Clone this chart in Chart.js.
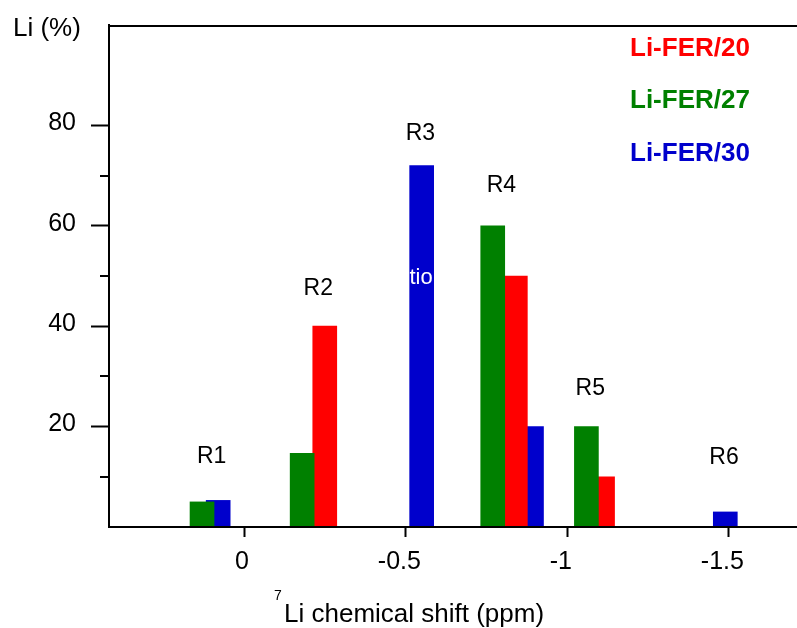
<!DOCTYPE html>
<html>
<head>
<meta charset="utf-8">
<title>Li distribution by 7Li chemical shift</title>
<script src="https://cdn.jsdelivr.net/npm/chart.js@4/dist/chart.umd.min.js"></script>
<style>
  html, body { margin: 0; padding: 0; background: #ffffff; }
  canvas { display: block; }
</style>
</head>
<body>
<canvas id="chart" width="797" height="628"></canvas>
<script>
// Li population (%) per site, positioned at its 7Li chemical shift (ppm)
const seriesNames = ['Li-FER/20', 'Li-FER/27', 'Li-FER/30'];
const seriesColors = ['#ff0000', '#008000', '#0000cc'];

const fer20Shift = [-0.25, -0.84, -1.11];
const fer20Li = [40, 50, 10];

const fer27Shift = [0.13, -0.18, -0.77, -1.06];
const fer27Li = [5, 14.7, 60, 20];

const fer30Shift = [0.08, -0.55, -0.89, -1.49];
const fer30Li = [5.3, 72, 20, 3];

// site labels and where they sit (shift, Li %)
const regionNames = ['R1', 'R2', 'R3', 'R4', 'R5', 'R6'];
const regionShift = [0.10, -0.23, -0.546, -0.797, -1.072, -1.486];
const regionLabelLi = [14, 47.5, 78.3, 67.9, 27.6, 13.8];

const xTickValues = [0, -0.5, -1, -1.5];
const yTickValues = [20, 40, 60, 80];
const yMinorTickValues = [10, 30, 50, 70];

const FONT = "'Liberation Sans', Arial, Helvetica, sans-serif";

function points(xs, ys) {
  return xs.map((x, i) => ({ x: x, y: ys[i] }));
}

const decorations = {
  id: 'decorations',
  afterDraw(chart) {
    const ctx = chart.ctx;
    const area = chart.chartArea;
    const xs = chart.scales.x;
    const ys = chart.scales.y;
    ctx.save();

    // top frame line
    ctx.fillStyle = '#000';
    ctx.fillRect(area.left - 1, area.top, area.right - area.left + 1, 2);

    // minor ticks on the Li axis
    ctx.strokeStyle = '#000';
    ctx.lineWidth = 2;
    yMinorTickValues.forEach(v => {
      const y = Math.round(ys.getPixelForValue(v));
      ctx.beginPath();
      ctx.moveTo(area.left - 9, y);
      ctx.lineTo(area.left, y);
      ctx.stroke();
    });

    // shift tick labels, digits centred under the tick
    ctx.fillStyle = '#000';
    ctx.font = '25px ' + FONT;
    ctx.textBaseline = 'alphabetic';
    ctx.textAlign = 'right';
    xTickValues.forEach(v => {
      const label = String(v);
      const digits = label.replace('-', '');
      const w = ctx.measureText(digits).width;
      const px = xs.getPixelForValue(v);
      ctx.fillText(label, px - 2 + w / 2, area.bottom + 42);
    });

    // site labels
    ctx.font = '23px ' + FONT;
    ctx.textAlign = 'center';
    ctx.textBaseline = 'middle';
    regionNames.forEach((name, i) => {
      ctx.fillText(name, xs.getPixelForValue(regionShift[i]), ys.getPixelForValue(regionLabelLi[i]));
    });

    // series key
    ctx.font = 'bold 26px ' + FONT;
    ctx.textAlign = 'left';
    ctx.textBaseline = 'alphabetic';
    const keyBaselines = [56, 108, 160.5];
    seriesNames.forEach((name, i) => {
      ctx.fillStyle = seriesColors[i];
      ctx.fillText(name, 630, keyBaselines[i]);
    });

    // axis titles
    ctx.fillStyle = '#000';
    ctx.font = '26px ' + FONT;
    ctx.textAlign = 'left';
    ctx.fillText('Li (%)', 13, 36);
    ctx.fillText('Li chemical shift (ppm)', 284, 622);
    ctx.font = '14px ' + FONT;
    ctx.fillText('7', 274, 600);

    // white text fragment inside the R3 bar
    const blueMeta = chart.getDatasetMeta(2);
    const r3 = blueMeta.data[1];
    if (r3) {
      const half = r3.width / 2;
      ctx.save();
      ctx.beginPath();
      ctx.rect(r3.x - half, r3.y, r3.width, r3.base - r3.y);
      ctx.clip();
      ctx.fillStyle = '#ffffff';
      ctx.font = '22px ' + FONT;
      ctx.textAlign = 'right';
      ctx.textBaseline = 'alphabetic';
      ctx.fillText('tio', r3.x + half - 1, ys.getPixelForValue(48.5));
      ctx.restore();
    }

    ctx.restore();
  }
};

new Chart(document.getElementById('chart'), {
  type: 'bar',
  data: {
    datasets: [
      { label: seriesNames[0], data: points(fer20Shift, fer20Li), backgroundColor: seriesColors[0], order: 1 },
      { label: seriesNames[1], data: points(fer27Shift, fer27Li), backgroundColor: seriesColors[1], order: 0 },
      { label: seriesNames[2], data: points(fer30Shift, fer30Li), backgroundColor: seriesColors[2], order: 2 }
    ]
  },
  options: {
    responsive: false,
    devicePixelRatio: 1,
    animation: false,
    layout: { padding: { top: 25, right: 0, bottom: 0, left: 0 } },
    datasets: {
      bar: { grouped: false, barThickness: 24, borderWidth: 0 }
    },
    plugins: {
      legend: { display: false },
      tooltip: { enabled: false },
      title: { display: false }
    },
    scales: {
      x: {
        type: 'linear',
        reverse: true,
        min: -1.712,
        max: 0.418,
        offset: false,
        afterBuildTicks(scale) {
          scale.ticks = xTickValues.map(v => ({ value: v }));
        },
        afterFit(scale) {
          scale.height = 101;
          scale.paddingLeft = 0;
          scale.paddingRight = 0;
        },
        ticks: { display: false },
        grid: {
          offset: false,
          drawOnChartArea: false,
          drawTicks: true,
          tickLength: 10,
          tickWidth: 2,
          tickColor: '#000'
        },
        border: { display: true, color: '#000', width: 2, z: 1 }
      },
      y: {
        type: 'linear',
        min: 0,
        max: 100,
        afterBuildTicks(scale) {
          scale.ticks = yTickValues.map(v => ({ value: v }));
        },
        afterFit(scale) {
          scale.width = 109;
          scale.paddingTop = 0;
          scale.paddingBottom = 0;
        },
        ticks: {
          color: '#000',
          font: { family: FONT, size: 25 },
          padding: 15,
          labelOffset: -2
        },
        grid: {
          drawOnChartArea: false,
          drawTicks: true,
          tickLength: 18,
          tickWidth: 2,
          tickColor: '#000'
        },
        border: { display: true, color: '#000', width: 2, z: 1 }
      }
    }
  },
  plugins: [decorations]
});
</script>
</body>
</html>
